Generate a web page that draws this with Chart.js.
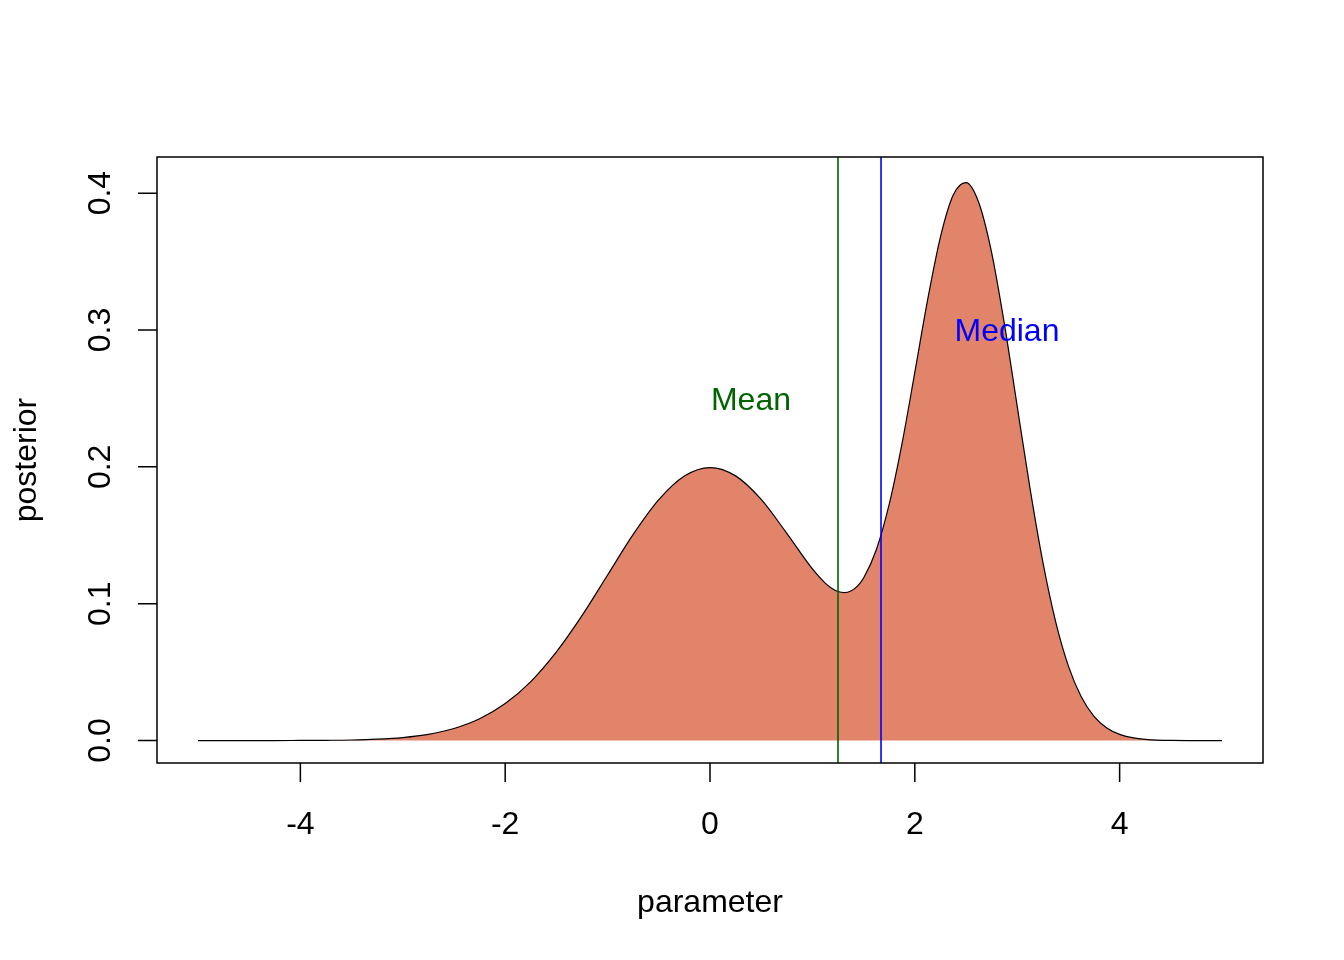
<!DOCTYPE html>
<html>
<head>
<meta charset="UTF-8">
<title>posterior</title>
<script src="https://cdn.jsdelivr.net/npm/chart.js@4.4.1/dist/chart.umd.min.js"></script>
<style>
  html, body { margin: 0; padding: 0; background: #fff; }
  #wrap { width: 1344px; height: 960px; }
</style>
</head>
<body>
<div id="wrap"><canvas id="c" width="1344" height="960"></canvas></div>
<script>
// parameter grid and posterior density
const paramX = [-5, -4.75, -4.5, -4.25, -4, -3.75, -3.5, -3.25, -3, -2.75, -2.5, -2.25, -2, -1.75, -1.5, -1.25,
  -1, -0.75, -0.5, -0.25, 0, 0.25, 0.5, 0.75, 1, 1.125, 1.1875, 1.25, 1.3125, 1.375, 1.4375, 1.5, 1.625,
  1.75, 1.875, 2, 2.125, 2.25, 2.375, 2.5, 2.625, 2.75, 2.875, 3, 3.125, 3.25, 3.375, 3.5, 3.625, 3.75,
  3.875, 4, 4.125, 4.25, 4.5, 4.75, 5]
const posterior = [0.0000, 0.0000, 0.0000, 0.0000, 0.0001, 0.0002, 0.0004, 0.0010, 0.0022, 0.0045, 0.0088,
  0.0159, 0.0270, 0.0431, 0.0648, 0.0913, 0.1210, 0.1506, 0.1760, 0.1933, 0.1995, 0.1934, 0.1762, 0.1514,
  0.1254, 0.1150, 0.1113, 0.1089, 0.1081, 0.1093, 0.1127, 0.1188, 0.1396, 0.1727, 0.2170, 0.2690, 0.3220,
  0.3679, 0.3986, 0.4077, 0.3930, 0.3566, 0.3043, 0.2442, 0.1842, 0.1305, 0.0869, 0.0544, 0.0320, 0.0177,
  0.0092, 0.0045, 0.0021, 0.0009, 0.0001, 0.0000, 0.0000]

const meanValue = 1.25
const medianValue = 1.67

const xTicks = [-4, -2, 0, 2, 4]
const yTicks = [0, 0.1, 0.2, 0.3, 0.4]
const yTickLabels = ['0.0', '0.1', '0.2', '0.3', '0.4']

const X_MIN = -5.4, X_MAX = 5.4
const Y_MIN = -0.0164, Y_MAX = 0.4264

const FONT = '32px "Liberation Sans", Arial, Helvetica, sans-serif'

const densityPoints = paramX.map((x, i) => ({ x: x, y: posterior[i] }))
const vline = (v) => [{ x: v, y: Y_MIN }, { x: v, y: Y_MAX }]

// R-style box, axes and annotations drawn from the chart's own scales
const baseAxes = {
  id: 'baseAxes',
  afterDraw(chart) {
    const ctx = chart.ctx
    const a = chart.chartArea
    const xs = chart.scales.x
    const ys = chart.scales.y
    ctx.save()
    ctx.strokeStyle = '#000'
    ctx.lineWidth = 1.5
    ctx.strokeRect(a.left, a.top, a.right - a.left, a.bottom - a.top)

    ctx.fillStyle = '#000'
    ctx.font = FONT
    ctx.textAlign = 'center'
    ctx.textBaseline = 'alphabetic'
    const tl = 19
    ctx.beginPath()
    xTicks.forEach(t => {
      const px = xs.getPixelForValue(t)
      ctx.moveTo(px, a.bottom)
      ctx.lineTo(px, a.bottom + tl)
    })
    yTicks.forEach(t => {
      const py = ys.getPixelForValue(t)
      ctx.moveTo(a.left, py)
      ctx.lineTo(a.left - tl, py)
    })
    ctx.stroke()

    xTicks.forEach(t => {
      ctx.fillText(String(t), xs.getPixelForValue(t), a.bottom + 71)
    })
    yTicks.forEach((t, i) => {
      ctx.save()
      ctx.translate(a.left - 47, ys.getPixelForValue(t))
      ctx.rotate(-Math.PI / 2)
      ctx.fillText(yTickLabels[i], 0, 0)
      ctx.restore()
    })

    ctx.fillText('parameter', (a.left + a.right) / 2, a.bottom + 149)
    ctx.save()
    ctx.translate(36, (a.top + a.bottom) / 2)
    ctx.rotate(-Math.PI / 2)
    ctx.fillText('posterior', 0, 0)
    ctx.restore()

    ctx.textBaseline = 'middle'
    ctx.fillStyle = '#006400'
    ctx.fillText('Mean', xs.getPixelForValue(0.4), ys.getPixelForValue(0.248))
    ctx.fillStyle = '#0000ff'
    ctx.fillText('Median', xs.getPixelForValue(2.9), ys.getPixelForValue(0.2985))
    ctx.restore()
  }
}

new Chart(document.getElementById('c'), {
  type: 'scatter',
  data: {
    datasets: [
      {
        data: densityPoints,
        showLine: true,
        fill: 'origin',
        backgroundColor: '#e2846a',
        borderColor: '#000',
        borderWidth: 1.2,
        pointRadius: 0,
        cubicInterpolationMode: 'monotone',
        order: 2
      },
      {
        data: vline(meanValue),
        showLine: true,
        borderColor: '#006400',
        borderWidth: 1.6,
        pointRadius: 0,
        fill: false,
        order: 1
      },
      {
        data: vline(medianValue),
        showLine: true,
        borderColor: '#0000ff',
        borderWidth: 1.6,
        pointRadius: 0,
        fill: false,
        order: 1
      }
    ]
  },
  options: {
    responsive: false,
    animation: false,
    devicePixelRatio: 1,
    layout: { padding: { left: 157, top: 157, right: 81, bottom: 197 } },
    plugins: { legend: { display: false }, tooltip: { enabled: false } },
    scales: {
      x: { type: 'linear', min: X_MIN, max: X_MAX, display: false },
      y: { type: 'linear', min: Y_MIN, max: Y_MAX, display: false }
    }
  },
  plugins: [baseAxes]
})
</script>
</body>
</html>
